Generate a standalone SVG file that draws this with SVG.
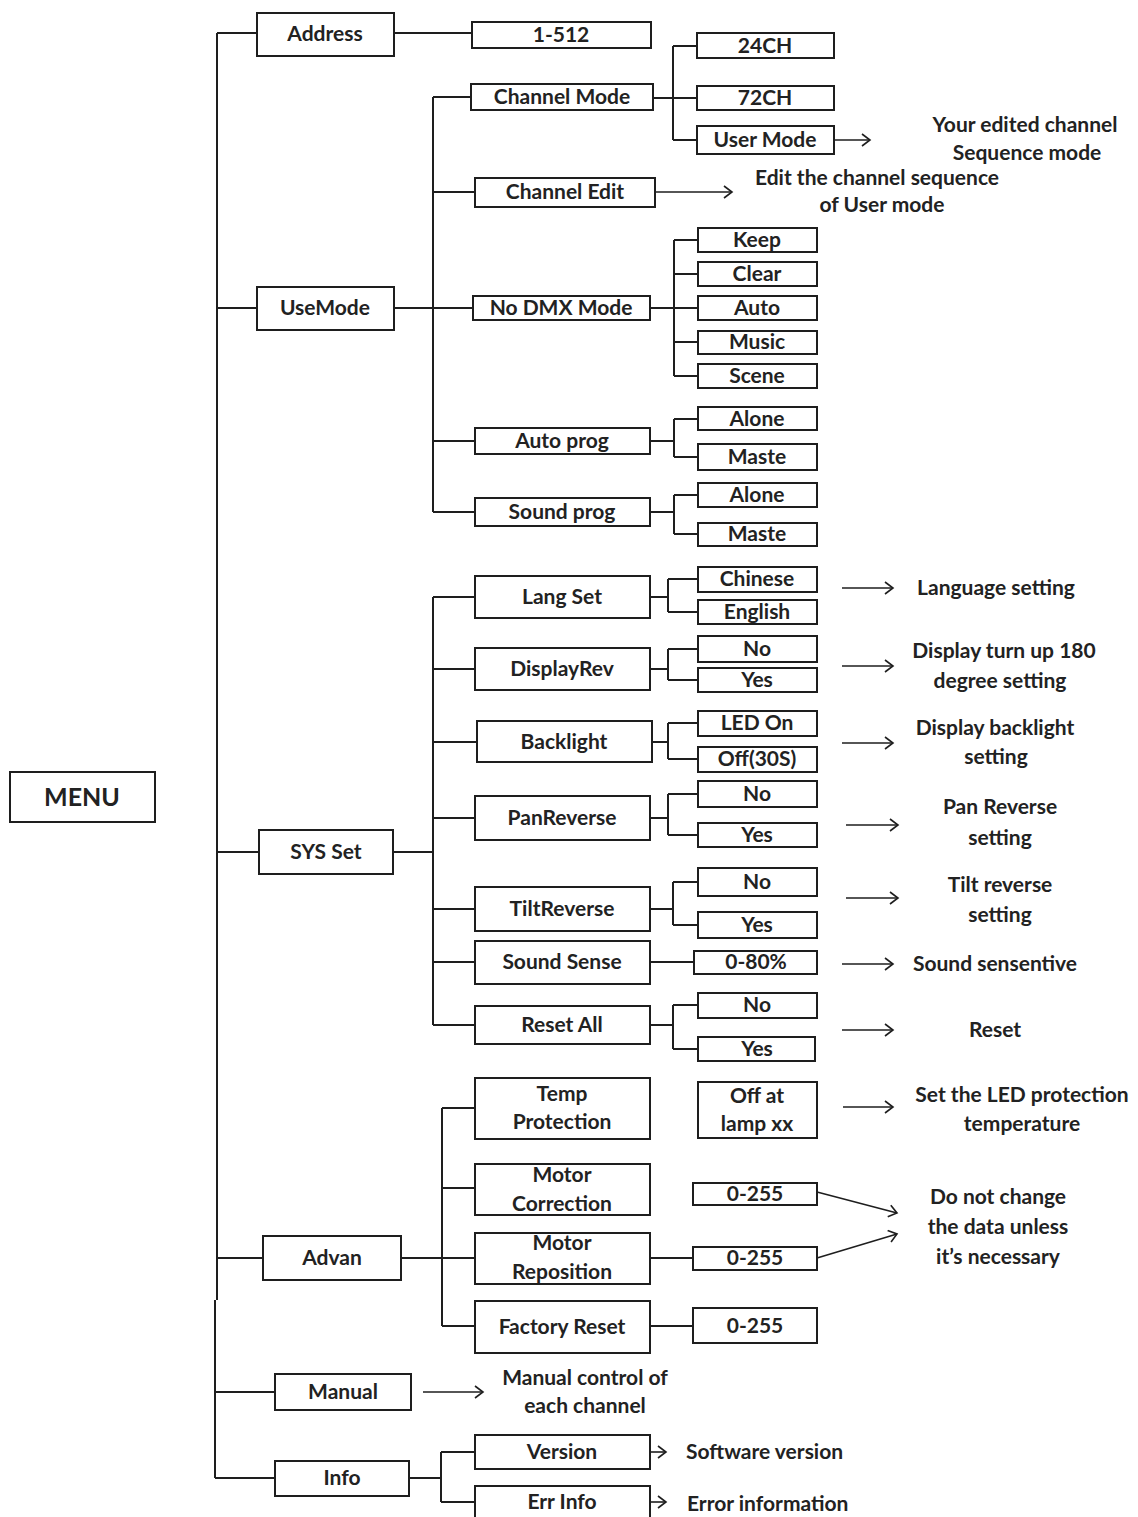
<svg xmlns="http://www.w3.org/2000/svg" width="1138" height="1517" viewBox="0 0 1138 1517">
<style>
rect{fill:#fff;stroke:#1e1e1e;stroke-width:2}
text{font-family:Lato,"Open Sans","Liberation Sans",sans-serif;font-weight:700;font-size:21px;fill:#222;text-anchor:middle;dominant-baseline:central;transform:translateY(-1.5px)}
.st{text-anchor:start}
.big{font-size:25px}
#connectors path{fill:none;stroke:#1e1e1e;stroke-width:2}
#connectors .ar{marker-end:url(#arr);stroke-width:1.6}
</style>
<defs>
<marker id="arr" markerUnits="userSpaceOnUse" markerWidth="12" markerHeight="14" refX="9" refY="7" orient="auto">
<path d="M1,1 L9,7 L1,13" fill="none" stroke="#1e1e1e" stroke-width="1.6"/>
</marker>
</defs>
<rect x="0" y="0" width="1138" height="1517" style="stroke:none;fill:#fff"/>
<g id="connectors">
<path d="M217,33 V1300 M215,1300 V1478 M217,33 H257 M394,33 H472 M217,308 H257 M217,852 H259 M217,1258 H263 M215,1392 H275 M215,1478 H275"/>
<path d="M394,308 H433 M433,97 V512 M433,97 H471 M433,192 H475 M433,308 H473 M433,441 H475 M433,512 H475"/>
<path d="M653,98 H697 M673,46 V140 M673,46 H697 M673,140 H697"/>
<path d="M650,308 H698 M674,240 V376 M674,240 H698 M674,274 H698 M674,342 H698 M674,376 H698"/>
<path d="M650,441 H674 M674,419 V457 M674,419 H698 M674,457 H698"/>
<path d="M650,512 H674 M674,495 V534 M674,495 H698 M674,534 H698"/>
<path d="M393,852 H433 M433,597 V1025 M433,597 H475 M433,669 H475 M433,742 H477 M433,818 H475 M433,909 H475 M433,962 H475 M433,1025 H475"/>
<path d="M650,597 H668 M668,579 V612 M668,579 H698 M668,612 H698"/>
<path d="M650,669 H668 M668,649 V680 M668,649 H698 M668,680 H698"/>
<path d="M652,742 H668 M668,723 V759 M668,723 H698 M668,759 H698"/>
<path d="M650,818 H668 M668,794 V835 M668,794 H698 M668,835 H698"/>
<path d="M650,909 H673 M673,882 V925 M673,882 H698 M673,925 H698"/>
<path d="M650,962 H694"/>
<path d="M650,1025 H673 M673,1005 V1049 M673,1005 H698 M673,1049 H698"/>
<path d="M401,1258 H442 M442,1108 V1326 M442,1108 H475 M442,1188 H475 M442,1258 H475 M442,1326 H475 M650,1258 H693 M650,1326 H693"/>
<path d="M409,1478 H441 M441,1452 V1502 M441,1452 H475 M441,1502 H475"/>
<path class="ar" d="M834,140 H870"/>
<path class="ar" d="M655,192 H732"/>
<path class="ar" d="M842,588 H893"/>
<path class="ar" d="M842,666 H893"/>
<path class="ar" d="M842,743 H893"/>
<path class="ar" d="M846,825 H898"/>
<path class="ar" d="M846,898 H898"/>
<path class="ar" d="M842,964 H893"/>
<path class="ar" d="M842,1030 H893"/>
<path class="ar" d="M843,1107 H893"/>
<path class="ar" d="M817,1192 L897,1213"/>
<path class="ar" d="M817,1258 L897,1234"/>
<path class="ar" d="M423,1392 H483"/>
<path class="ar" d="M650,1452 H666"/>
<path class="ar" d="M650,1502 H666"/>
</g>
<g id="menu"><rect x="10" y="772" width="145" height="50"/><text class="big" x="82" y="797">MENU</text></g>
<g id="address"><rect x="257" y="13" width="137" height="43"/><text x="325" y="34">Address</text></g>
<g id="addr-val"><rect x="472" y="22" width="179" height="26"/><text x="561" y="35">1-512</text></g>
<g id="usemode"><rect x="257" y="287" width="137" height="43"/><text x="325" y="308">UseMode</text></g>
<g id="chmode"><rect x="471" y="84" width="182" height="26"/><text x="562" y="97">Channel Mode</text></g>
<g id="ch24"><rect x="697" y="33" width="137" height="25"/><text x="765" y="46">24CH</text></g>
<g id="ch72"><rect x="697" y="86" width="137" height="24"/><text x="765" y="98">72CH</text></g>
<g id="usermode"><rect x="697" y="126" width="137" height="28"/><text x="765" y="140">User Mode</text></g>
<g id="usermode-desc"><text x="1025" y="125">Your edited channel</text><text x="1027" y="153">Sequence mode</text></g>
<g id="chedit"><rect x="475" y="178" width="180" height="29"/><text x="565" y="192">Channel Edit</text></g>
<g id="chedit-desc"><text x="877" y="178">Edit the channel sequence</text><text x="882" y="205">of User mode</text></g>
<g id="nodmx"><rect x="473" y="296" width="177" height="24"/><text x="561" y="308">No DMX Mode</text></g>
<g id="keep"><rect x="698" y="228" width="119" height="24"/><text x="757" y="240">Keep</text></g>
<g id="clear"><rect x="698" y="262" width="119" height="24"/><text x="757" y="274">Clear</text></g>
<g id="auto"><rect x="698" y="296" width="119" height="24"/><text x="757" y="308">Auto</text></g>
<g id="music"><rect x="698" y="331" width="119" height="23"/><text x="757" y="342">Music</text></g>
<g id="scene"><rect x="698" y="364" width="119" height="24"/><text x="757" y="376">Scene</text></g>
<g id="autoprog"><rect x="475" y="428" width="175" height="26"/><text x="562" y="441">Auto prog</text></g>
<g id="alone1"><rect x="698" y="407" width="119" height="23"/><text x="757" y="419">Alone</text></g>
<g id="maste1"><rect x="698" y="444" width="119" height="26"/><text x="757" y="457">Maste</text></g>
<g id="soundprog"><rect x="475" y="498" width="175" height="28"/><text x="562" y="512">Sound prog</text></g>
<g id="alone2"><rect x="698" y="483" width="119" height="24"/><text x="757" y="495">Alone</text></g>
<g id="maste2"><rect x="698" y="523" width="119" height="23"/><text x="757" y="534">Maste</text></g>
<g id="sysset"><rect x="259" y="830" width="134" height="44"/><text x="326" y="852">SYS Set</text></g>
<g id="langset"><rect x="475" y="576" width="175" height="42"/><text x="562" y="597">Lang Set</text></g>
<g id="chinese"><rect x="698" y="567" width="119" height="25"/><text x="757" y="579">Chinese</text></g>
<g id="english"><rect x="698" y="600" width="119" height="24"/><text x="757" y="612">English</text></g>
<g id="lang-desc"><text x="996" y="588">Language setting</text></g>
<g id="displayrev"><rect x="475" y="648" width="175" height="42"/><text x="562" y="669">DisplayRev</text></g>
<g id="dr-no"><rect x="698" y="636" width="119" height="26"/><text x="757" y="649">No</text></g>
<g id="dr-yes"><rect x="698" y="668" width="119" height="24"/><text x="757" y="680">Yes</text></g>
<g id="dr-desc"><text x="1004" y="651">Display turn up 180</text><text x="1000" y="681">degree setting</text></g>
<g id="backlight"><rect x="477" y="721" width="175" height="41"/><text x="564" y="742">Backlight</text></g>
<g id="ledon"><rect x="698" y="711" width="119" height="25"/><text x="757" y="723">LED On</text></g>
<g id="off30s"><rect x="698" y="747" width="119" height="25"/><text x="757" y="759">Off(30S)</text></g>
<g id="bl-desc"><text x="995" y="728">Display backlight</text><text x="996" y="757">setting</text></g>
<g id="panrev"><rect x="475" y="796" width="175" height="44"/><text x="562" y="818">PanReverse</text></g>
<g id="pr-no"><rect x="698" y="781" width="119" height="26"/><text x="757" y="794">No</text></g>
<g id="pr-yes"><rect x="698" y="823" width="119" height="24"/><text x="757" y="835">Yes</text></g>
<g id="pr-desc"><text x="1000" y="807">Pan Reverse</text><text x="1000" y="838">setting</text></g>
<g id="tiltrev"><rect x="475" y="887" width="175" height="44"/><text x="562" y="909">TiltReverse</text></g>
<g id="tr-no"><rect x="698" y="868" width="119" height="28"/><text x="757" y="882">No</text></g>
<g id="tr-yes"><rect x="698" y="912" width="119" height="26"/><text x="757" y="925">Yes</text></g>
<g id="tr-desc"><text x="1000" y="885">Tilt reverse</text><text x="1000" y="915">setting</text></g>
<g id="soundsense"><rect x="475" y="941" width="175" height="43"/><text x="562" y="962">Sound Sense</text></g>
<g id="ss-val"><rect x="694" y="951" width="123" height="23"/><text x="756" y="962">0-80%</text></g>
<g id="ss-desc"><text x="995" y="964">Sound sensentive</text></g>
<g id="resetall"><rect x="475" y="1006" width="175" height="38"/><text x="562" y="1025">Reset All</text></g>
<g id="ra-no"><rect x="698" y="993" width="119" height="25"/><text x="757" y="1005">No</text></g>
<g id="ra-yes"><rect x="698" y="1037" width="117" height="24"/><text x="757" y="1049">Yes</text></g>
<g id="ra-desc"><text x="995" y="1030">Reset</text></g>
<g id="advan"><rect x="263" y="1236" width="138" height="44"/><text x="332" y="1258">Advan</text></g>
<g id="temp"><rect x="475" y="1078" width="175" height="61"/><text x="562" y="1094">Temp</text><text x="562" y="1122">Protection</text></g>
<g id="offat"><rect x="698" y="1082" width="119" height="56"/><text x="757" y="1096">Off at</text><text x="757" y="1124">lamp xx</text></g>
<g id="temp-desc"><text x="1022" y="1095">Set the LED protection</text><text x="1022" y="1124">temperature</text></g>
<g id="motorcorr"><rect x="475" y="1164" width="175" height="51"/><text x="562" y="1175">Motor</text><text x="562" y="1204">Correction</text></g>
<g id="mc-val"><rect x="693" y="1183" width="124" height="22"/><text x="755" y="1194">0-255</text></g>
<g id="motorrepo"><rect x="475" y="1233" width="175" height="51"/><text x="562" y="1243">Motor</text><text x="562" y="1272">Reposition</text></g>
<g id="mr-val"><rect x="693" y="1247" width="124" height="23"/><text x="755" y="1258">0-255</text></g>
<g id="motor-desc"><text x="998" y="1197">Do not change</text><text x="998" y="1227">the data unless</text><text x="998" y="1257">it’s necessary</text></g>
<g id="factory"><rect x="475" y="1301" width="175" height="52"/><text x="562" y="1327">Factory Reset</text></g>
<g id="fr-val"><rect x="693" y="1308" width="124" height="35"/><text x="755" y="1326">0-255</text></g>
<g id="manual"><rect x="275" y="1374" width="136" height="36"/><text x="343" y="1392">Manual</text></g>
<g id="manual-desc"><text x="585" y="1378">Manual control of</text><text x="585" y="1406">each channel</text></g>
<g id="info"><rect x="275" y="1461" width="134" height="35"/><text x="342" y="1478">Info</text></g>
<g id="version"><rect x="475" y="1435" width="175" height="34"/><text x="562" y="1452">Version</text></g>
<g id="version-desc"><text class="st" x="686" y="1452">Software version</text></g>
<g id="errinfo"><rect x="475" y="1486" width="175" height="40"/><text x="562" y="1502">Err Info</text></g>
<g id="err-desc"><text class="st" x="687" y="1504">Error information</text></g>
</svg>
